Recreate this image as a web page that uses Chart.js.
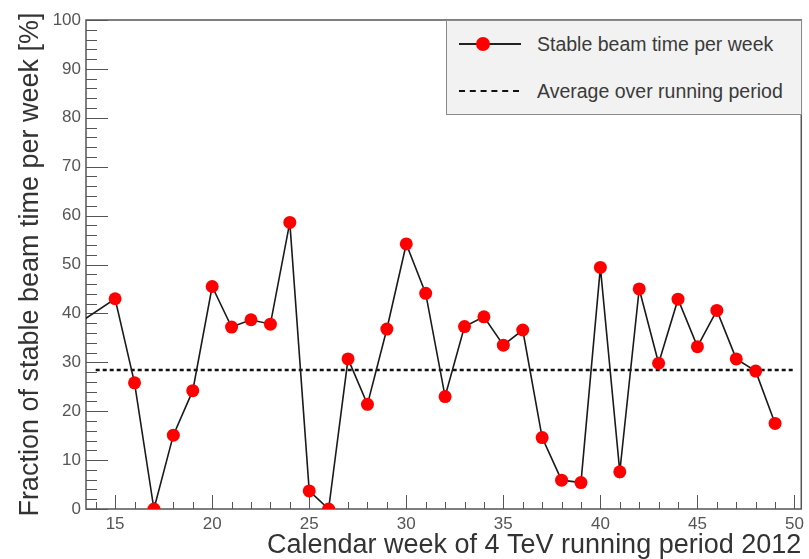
<!DOCTYPE html>
<html>
<head>
<meta charset="utf-8">
<script src="https://cdn.jsdelivr.net/npm/chart.js@4.4.1/dist/chart.umd.min.js"></script>
<style>
  html, body { margin: 0; padding: 0; background: #fff; }
  #wrap { position: relative; width: 809px; height: 559px; }
  #legend { position: absolute; left: 446px; top: 20px; width: 356px; height: 95px;
    background: #f2f2f2; border: 1px solid #8a8a8a; box-sizing: border-box;
    font-family: "Liberation Sans", Arial, sans-serif; font-size: 19.5px; color: #3a3a3a; }
  .item { position: absolute; left: 0; height: 22px; width: 100%; }
  .sw { position: absolute; left: 12px; top: 0; width: 62px; height: 22px; }
  .lbl { position: absolute; left: 90px; top: 0px; line-height: 22px; white-space: nowrap; }
</style>
</head>
<body>
<div id="wrap">
  <canvas id="c" width="809" height="559"></canvas>
  <div id="legend"></div>
</div>
<script>
// ---- data ----
const weeks = [13, 15, 16, 17, 18, 19, 20, 21, 22, 23, 24, 25, 26, 27, 28, 29, 30, 31, 32, 33, 34, 35, 36, 37, 38, 39, 40, 41, 42, 43, 44, 45, 46, 47, 48, 49];
const stableFraction = [37.7, 43.0, 25.8, 0.0, 15.1, 24.2, 45.5, 37.2, 38.7, 37.8, 58.6, 3.7, 0.0, 30.7, 21.4, 36.8, 54.2, 44.1, 23.0, 37.3, 39.3, 33.5, 36.6, 14.6, 5.9, 5.4, 49.4, 7.6, 45.0, 29.8, 42.9, 33.2, 40.6, 30.7, 28.2, 17.5];
const averageWeeks = [14, 50];
const averageValue = [28.4, 28.4];
const xTickLabels = [15, 20, 25, 30, 35, 40, 45, 50];
const yTickLabels = [0, 10, 20, 30, 40, 50, 60, 70, 80, 90, 100];
const seriesLabels = ["Stable beam time per week", "Average over running period"];
const xTitle = "Calendar week of 4 TeV running period 2012";
const yTitle = "Fraction of stable beam time per week [%]";

const FONT = "'Liberation Sans', Arial, sans-serif";

const frameTicks = {
  id: 'frameTicks',
  beforeDatasetsDraw(chart) {
    const { ctx, chartArea: a, scales: { x, y } } = chart;
    ctx.save();
    ctx.strokeStyle = '#555';
    ctx.lineWidth = 1;
    for (let w = Math.ceil(x.min); w <= x.max; w++) {
      const px = Math.round(x.getPixelForValue(w)) + 0.5;
      const len = (w % 5 === 0) ? 14 : 7;
      ctx.beginPath(); ctx.moveTo(px, a.bottom); ctx.lineTo(px, a.bottom - len); ctx.stroke();
    }
    for (let v = 0; v <= 100; v += 2) {
      const py = Math.round(y.getPixelForValue(v)) + 0.5;
      const len = (v % 10 === 0) ? 22 : 11;
      ctx.beginPath(); ctx.moveTo(a.left, py); ctx.lineTo(a.left + len, py); ctx.stroke();
    }
    ctx.lineWidth = 1.5;
    ctx.strokeRect(a.left, a.top, a.right - a.left, a.bottom - a.top);
    ctx.restore();
  }
};

const chart = new Chart(document.getElementById('c'), {
  type: 'line',
  data: {
    datasets: [
      {
        label: seriesLabels[0],
        data: weeks.map((w, i) => ({ x: w, y: stableFraction[i] })),
        borderColor: '#1a1a1a',
        borderWidth: 1.6,
        pointRadius: 6.5,
        pointBackgroundColor: '#ff0000',
        pointBorderColor: '#ff0000',
        pointBorderWidth: 0,
        tension: 0,
        order: 1
      },
      {
        label: seriesLabels[1],
        data: averageWeeks.map((w, i) => ({ x: w, y: averageValue[i] })),
        borderColor: '#111',
        borderWidth: 2.5,
        borderDash: [4, 3],
        pointRadius: 0,
        order: 2
      }
    ]
  },
  options: {
    responsive: false,
    animation: false,
    layout: { padding: { top: 20, right: 6, left: 0, bottom: 0 } },
    plugins: { legend: { display: false }, tooltip: { enabled: false } },
    scales: {
      x: {
        type: 'linear',
        min: 13.5,
        max: 50.35,
        grid: { display: false, drawTicks: false },
        border: { display: false },
        ticks: { font: { family: FONT, size: 17 }, color: '#555', padding: 5, maxRotation: 0, autoSkip: false },
        afterBuildTicks(s) { s.ticks = xTickLabels.map(v => ({ value: v })); },
        afterFit(s) { s.height = 50; },
        title: { display: true, text: xTitle, align: 'end', font: { family: FONT, size: 27 }, color: '#333', padding: { top: 0, bottom: -3 } }
      },
      y: {
        min: 0,
        max: 100,
        grid: { display: false, drawTicks: false },
        border: { display: false },
        ticks: { font: { family: FONT, size: 17 }, color: '#555', padding: 5 },
        afterBuildTicks(s) { s.ticks = yTickLabels.map(v => ({ value: v })); },
        afterFit(s) { s.width = 86; },
        title: { display: true, text: yTitle, align: 'center', font: { family: FONT, size: 27 }, color: '#333', padding: { top: 14, bottom: 0 } }
      }
    }
  },
  plugins: [frameTicks]
});

// HTML legend built from dataset labels
const leg = document.getElementById('legend');
chart.data.datasets.forEach((ds, i) => {
  const it = document.createElement('div');
  it.className = 'item';
  it.style.top = (i === 0 ? 12 : 59) + 'px';
  const sw = document.createElement('div');
  sw.className = 'sw';
  if (i === 0) {
    sw.innerHTML = '<div style="position:absolute;left:0;top:10px;width:62px;height:2px;background:#222"></div>' +
      '<div style="position:absolute;left:17px;top:4px;width:14px;height:14px;border-radius:50%;background:#ff0000"></div>';
  } else {
    sw.innerHTML = '<div style="position:absolute;left:0;top:10px;width:60px;height:0;border-top:2.5px dashed #111"></div>';
  }
  const lb = document.createElement('div');
  lb.className = 'lbl';
  lb.textContent = ds.label;
  it.appendChild(sw); it.appendChild(lb);
  leg.appendChild(it);
});
</script>
</body>
</html>
